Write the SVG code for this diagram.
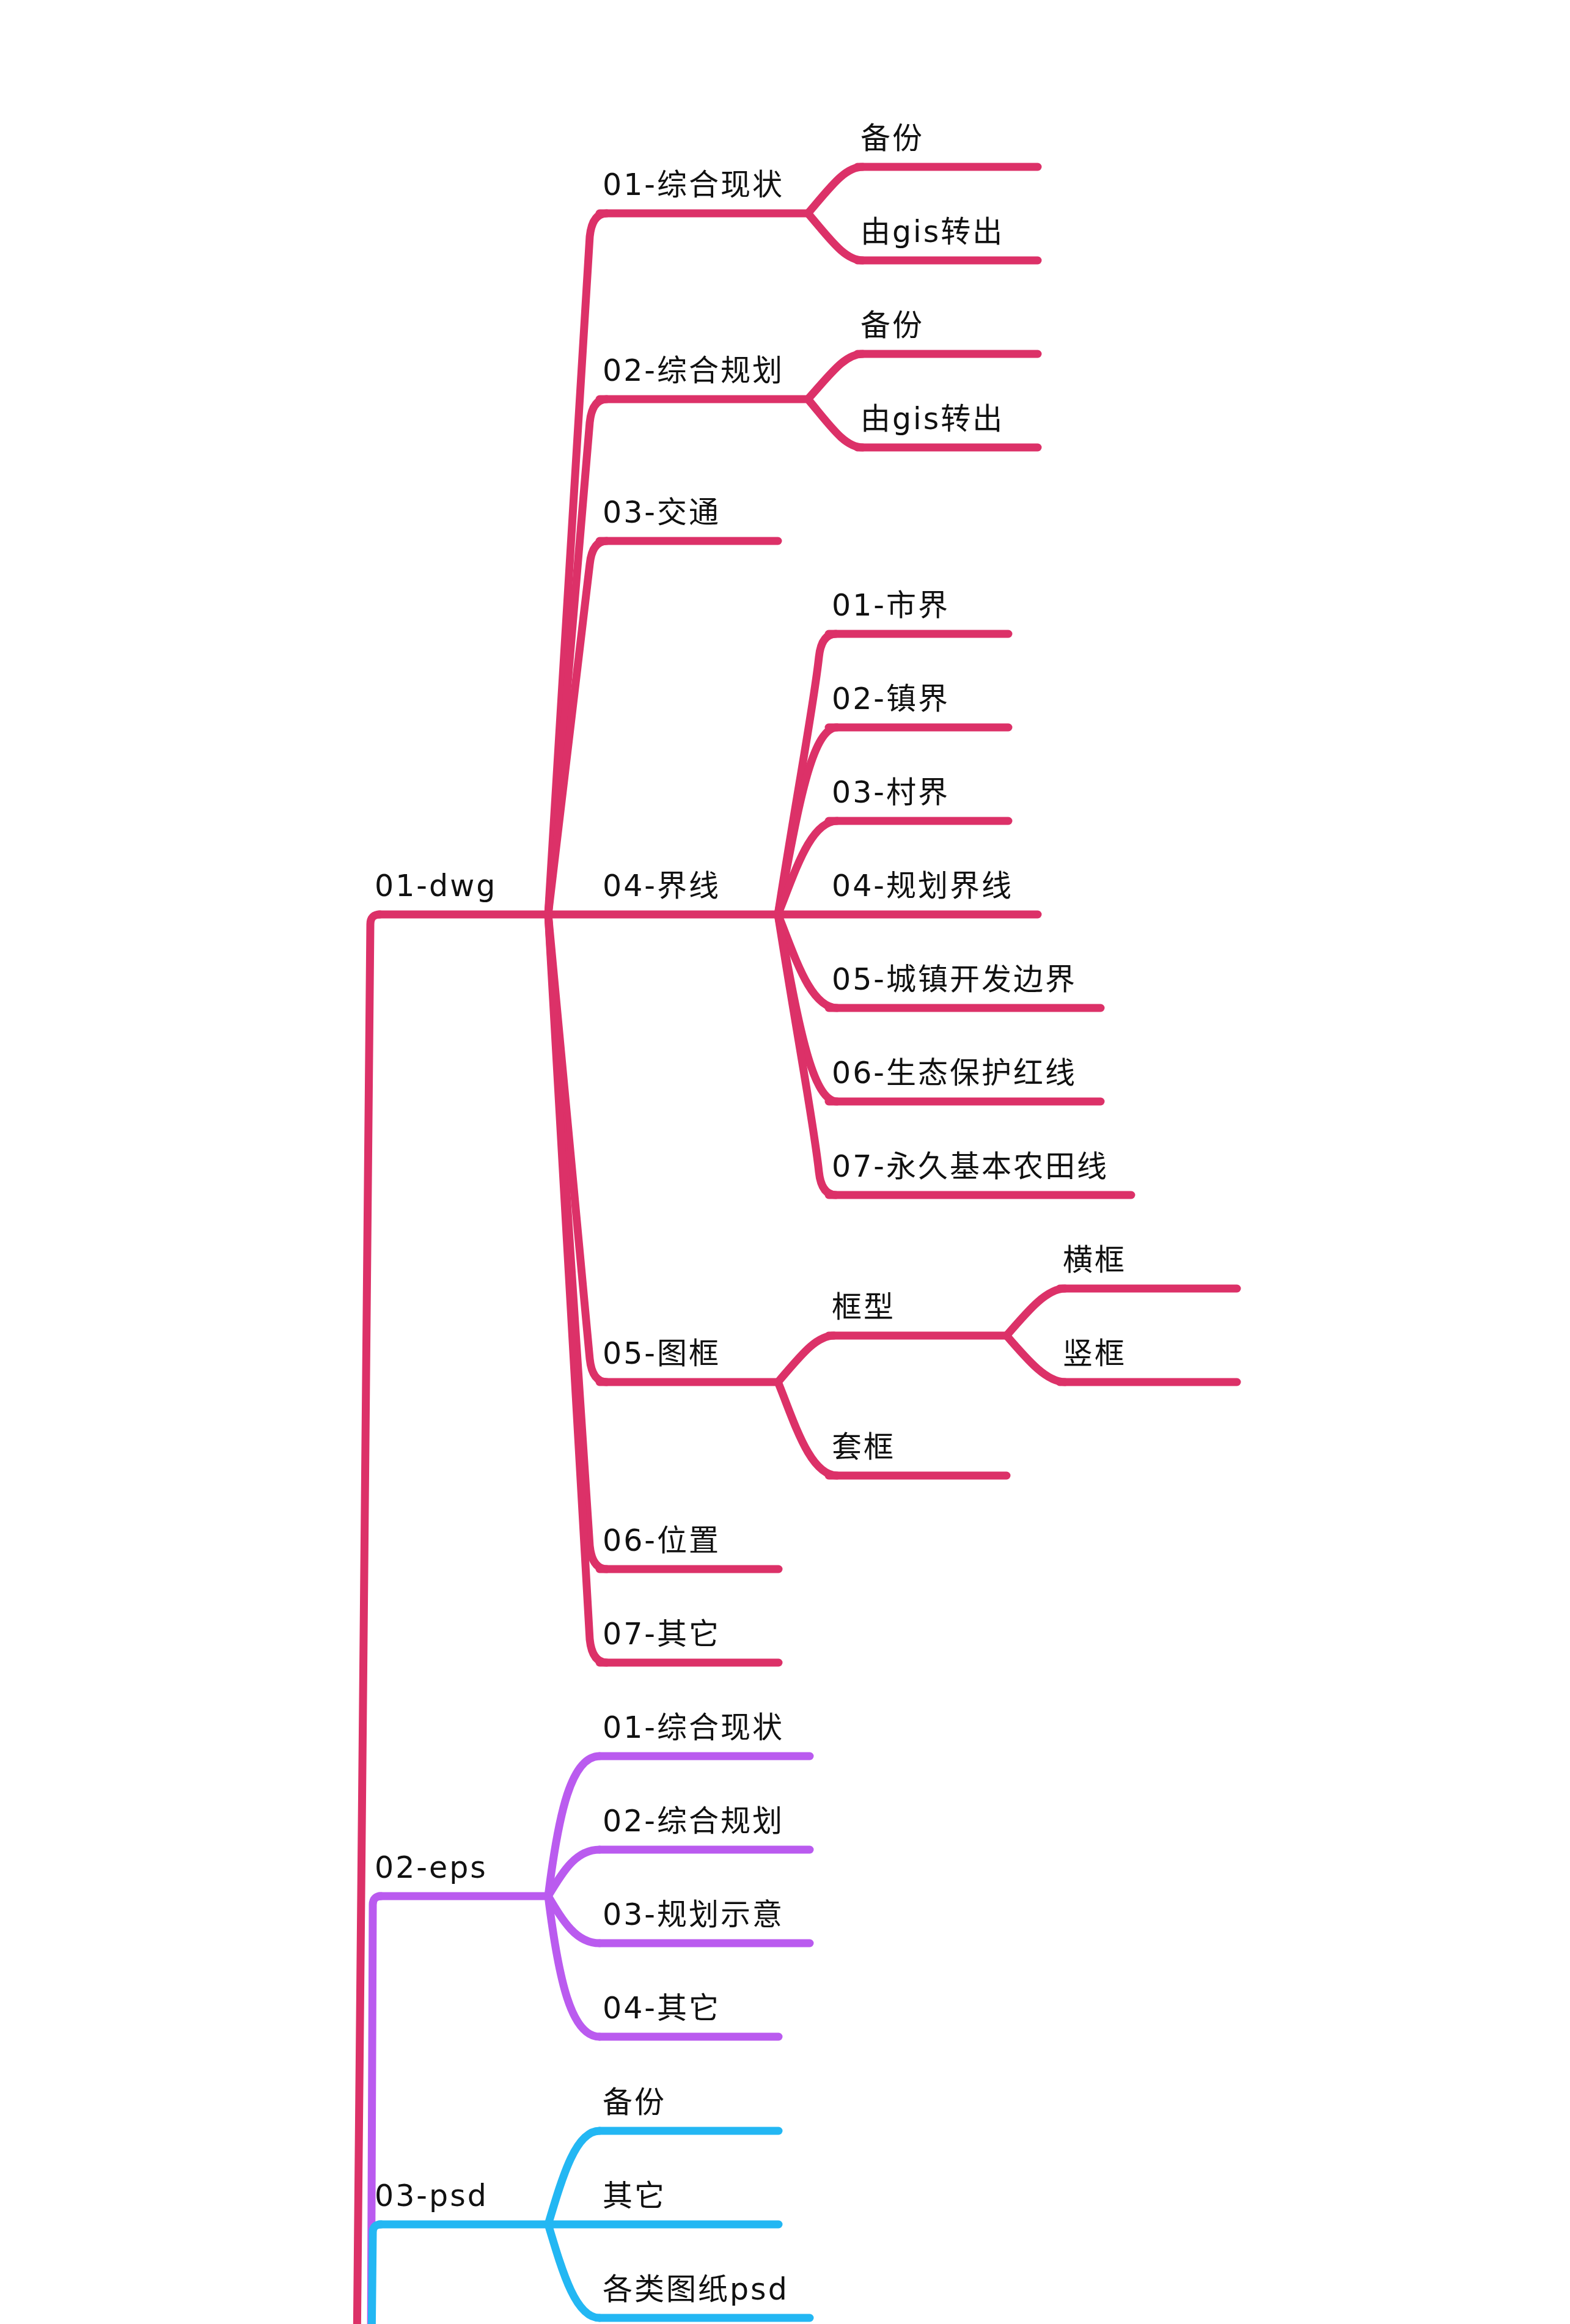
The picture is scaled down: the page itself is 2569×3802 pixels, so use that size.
<svg xmlns="http://www.w3.org/2000/svg" width="2569" height="3802" viewBox="0 0 2569 3802">
<style>
  .c { fill: none; stroke-width: 13; stroke-linecap: round; stroke-linejoin: round; }
  .pk { stroke: #DC3168; }
  .pu { stroke: #BA5BEF; }
  .bl { stroke: #23B7F3; }
  text { font-family: "DejaVu Sans", "Noto Sans CJK SC", sans-serif; font-size: 49px; letter-spacing: 3px; fill: #111111; }
</style>
<rect x="0" y="0" width="2569" height="3802" fill="#ffffff"/>

<g id="connectors">
  <!-- trunks from root (off canvas) -->
  <path class="c pk" d="M584 3840 L606 1512 Q606 1496 622 1496"/>
  <path class="c pu" d="M607 3840 L610 3116 Q610 3102 624 3102"/>
  <path class="c bl" d="M608 3840 L610 3652 Q610 3639 624 3639"/>
  <!-- 01-dwg children -->
  <path class="c pk" d="M897 1496 C930 941 957 463 965 387 Q969 349 993 349"/>
  <path class="c pk" d="M897 1496 C930 1093 957 767 965 691 Q969 653 993 653"/>
  <path class="c pk" d="M897 1496 C930 1209 957 999 965 923 Q969 885 993 885"/>
  <path class="c pk" d="M897 1496 C930 1859 957 2147 965 2223 Q969 2261 993 2261"/>
  <path class="c pk" d="M897 1496 C930 2012 957 2453 965 2529 Q969 2567 993 2567"/>
  <path class="c pk" d="M897 1496 C930 2089 957 2606 965 2682 Q969 2720 993 2720"/>
  <!-- 01-综合现状 children -->
  <path class="c pk" d="M1322 349 C1359 306 1382 273 1412 273"/>
  <path class="c pk" d="M1322 349 C1359 392 1382 426 1412 426"/>
  <!-- 02-综合规划 children -->
  <path class="c pk" d="M1322 653 C1359 612 1382 579 1412 579"/>
  <path class="c pk" d="M1322 653 C1359 697 1382 732 1412 732"/>
  <!-- 04-界线 children -->
  <path class="c pk" d="M1273 1496 C1306 1285 1332 1151 1340 1075 Q1344 1037 1368 1037"/>
  <path class="c pk" d="M1273 1496 C1303 1343 1325 1190 1370 1190"/>
  <path class="c pk" d="M1273 1496 C1300 1430 1325 1343 1370 1343"/>
  <path class="c pk" d="M1273 1496 C1300 1562 1325 1649 1370 1649"/>
  <path class="c pk" d="M1273 1496 C1303 1649 1325 1802 1370 1802"/>
  <path class="c pk" d="M1273 1496 C1306 1706 1332 1841 1340 1917 Q1344 1955 1368 1955"/>
  <!-- 05-图框 children -->
  <path class="c pk" d="M1273 2261 C1310 2218 1335 2185 1365 2185"/>
  <path class="c pk" d="M1273 2261 C1300 2327 1325 2414 1370 2414"/>
  <!-- 框型 children -->
  <path class="c pk" d="M1647 2185 C1684 2142 1713 2108 1743 2108"/>
  <path class="c pk" d="M1647 2185 C1684 2228 1713 2261 1743 2261"/>
  <!-- 02-eps children -->
  <path class="c pu" d="M897 3102 C914 2965 935 2873 981 2873"/>
  <path class="c pu" d="M897 3102 C922 3060 943 3026 981 3026"/>
  <path class="c pu" d="M897 3102 C922 3144 943 3179 981 3179"/>
  <path class="c pu" d="M897 3102 C914 3240 935 3332 981 3332"/>
  <!-- 03-psd children -->
  <path class="c bl" d="M897 3639 C922 3555 943 3486 981 3486"/>
  <path class="c bl" d="M897 3639 C922 3723 943 3792 981 3792"/>
</g>

<g id="n-dwg"><line class="c pk" x1="620" y1="1496" x2="897" y2="1496"/><text x="613" y="1466">01-dwg</text></g>
<g id="n-dwg-01"><line class="c pk" x1="981" y1="349" x2="1322" y2="349"/><text x="986" y="319">01-综合现状</text></g>
<g id="n-dwg-01-a"><line class="c pk" x1="1403" y1="273" x2="1698" y2="273"/><text x="1408" y="243">备份</text></g>
<g id="n-dwg-01-b"><line class="c pk" x1="1403" y1="426" x2="1698" y2="426"/><text x="1408" y="396">由gis转出</text></g>
<g id="n-dwg-02"><line class="c pk" x1="981" y1="653" x2="1322" y2="653"/><text x="986" y="623">02-综合规划</text></g>
<g id="n-dwg-02-a"><line class="c pk" x1="1403" y1="579" x2="1698" y2="579"/><text x="1408" y="549">备份</text></g>
<g id="n-dwg-02-b"><line class="c pk" x1="1403" y1="732" x2="1698" y2="732"/><text x="1408" y="702">由gis转出</text></g>
<g id="n-dwg-03"><line class="c pk" x1="981" y1="885" x2="1273" y2="885"/><text x="986" y="855">03-交通</text></g>
<g id="n-dwg-04"><line class="c pk" x1="897" y1="1496" x2="1273" y2="1496"/><text x="986" y="1466">04-界线</text></g>
<g id="n-dwg-04-1"><line class="c pk" x1="1356" y1="1037" x2="1650" y2="1037"/><text x="1361" y="1007">01-市界</text></g>
<g id="n-dwg-04-2"><line class="c pk" x1="1356" y1="1190" x2="1650" y2="1190"/><text x="1361" y="1160">02-镇界</text></g>
<g id="n-dwg-04-3"><line class="c pk" x1="1356" y1="1343" x2="1650" y2="1343"/><text x="1361" y="1313">03-村界</text></g>
<g id="n-dwg-04-4"><line class="c pk" x1="1273" y1="1496" x2="1698" y2="1496"/><text x="1361" y="1466">04-规划界线</text></g>
<g id="n-dwg-04-5"><line class="c pk" x1="1356" y1="1649" x2="1801" y2="1649"/><text x="1361" y="1619">05-城镇开发边界</text></g>
<g id="n-dwg-04-6"><line class="c pk" x1="1356" y1="1802" x2="1801" y2="1802"/><text x="1361" y="1772">06-生态保护红线</text></g>
<g id="n-dwg-04-7"><line class="c pk" x1="1356" y1="1955" x2="1851" y2="1955"/><text x="1361" y="1925">07-永久基本农田线</text></g>
<g id="n-dwg-05"><line class="c pk" x1="981" y1="2261" x2="1273" y2="2261"/><text x="986" y="2231">05-图框</text></g>
<g id="n-dwg-05-a"><line class="c pk" x1="1356" y1="2185" x2="1647" y2="2185"/><text x="1361" y="2155">框型</text></g>
<g id="n-dwg-05-a1"><line class="c pk" x1="1734" y1="2108" x2="2024" y2="2108"/><text x="1739" y="2078">横框</text></g>
<g id="n-dwg-05-a2"><line class="c pk" x1="1734" y1="2261" x2="2024" y2="2261"/><text x="1739" y="2231">竖框</text></g>
<g id="n-dwg-05-b"><line class="c pk" x1="1356" y1="2414" x2="1647" y2="2414"/><text x="1361" y="2384">套框</text></g>
<g id="n-dwg-06"><line class="c pk" x1="981" y1="2567" x2="1274" y2="2567"/><text x="986" y="2537">06-位置</text></g>
<g id="n-dwg-07"><line class="c pk" x1="981" y1="2720" x2="1274" y2="2720"/><text x="986" y="2690">07-其它</text></g>

<g id="n-eps"><line class="c pu" x1="620" y1="3102" x2="897" y2="3102"/><text x="613" y="3072">02-eps</text></g>
<g id="n-eps-01"><line class="c pu" x1="981" y1="2873" x2="1325" y2="2873"/><text x="986" y="2843">01-综合现状</text></g>
<g id="n-eps-02"><line class="c pu" x1="981" y1="3026" x2="1325" y2="3026"/><text x="986" y="2996">02-综合规划</text></g>
<g id="n-eps-03"><line class="c pu" x1="981" y1="3179" x2="1325" y2="3179"/><text x="986" y="3149">03-规划示意</text></g>
<g id="n-eps-04"><line class="c pu" x1="981" y1="3332" x2="1274" y2="3332"/><text x="986" y="3302">04-其它</text></g>

<g id="n-psd"><line class="c bl" x1="620" y1="3639" x2="897" y2="3639"/><text x="613" y="3609">03-psd</text></g>
<g id="n-psd-1"><line class="c bl" x1="981" y1="3486" x2="1274" y2="3486"/><text x="986" y="3456">备份</text></g>
<g id="n-psd-2"><line class="c bl" x1="897" y1="3639" x2="1274" y2="3639"/><text x="986" y="3609">其它</text></g>
<g id="n-psd-3"><line class="c bl" x1="981" y1="3792" x2="1325" y2="3792"/><text x="986" y="3762">各类图纸psd</text></g>
</svg>
